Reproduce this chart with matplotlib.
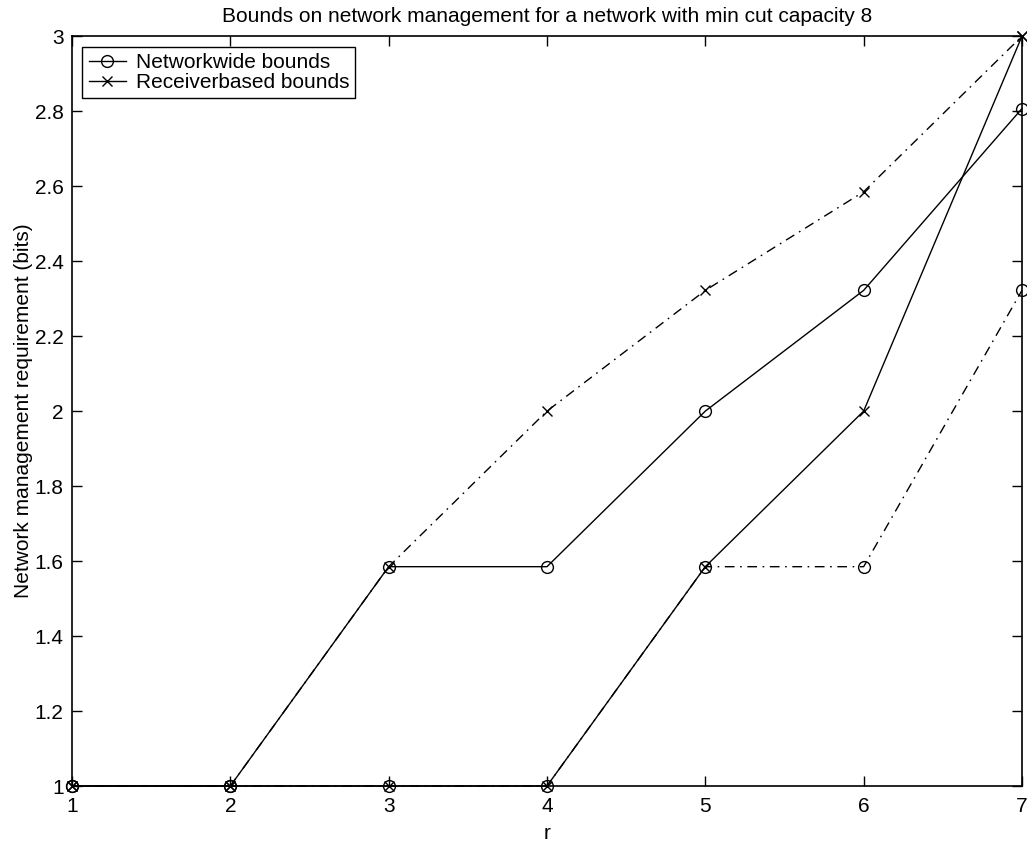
import numpy as np
import matplotlib
matplotlib.use("Agg")
import matplotlib.pyplot as plt
from matplotlib.lines import Line2D

# 数据：r 从 1 到 7
r = [1, 2, 3, 4, 5, 6, 7]
net_upper = [1, 1, 1.585, 1.585, 2.0, 2.322, 2.807]
net_lower = [1, 1, 1, 1, 1.585, 1.585, 2.322]
recv_upper = [1, 1, 1.585, 2.0, 2.322, 2.585, 3.0]
recv_lower = [1, 1, 1, 1, 1.585, 2.0, 3.0]
y_ticks = [1, 1.2, 1.4, 1.6, 1.8, 2, 2.2, 2.4, 2.6, 2.8, 3]
y_labels = ['1', '1.2', '1.4', '1.6', '1.8', '2', '2.2', '2.4', '2.6', '2.8', '3']

plt.rcParams['font.family'] = ['Liberation Sans', 'DejaVu Sans']
FS = 15

fig = plt.figure(figsize=(10.27, 8.42), dpi=100)
ax = fig.add_axes([0.0701, 0.0665, 0.925, 0.8905])

dashdot = (0, (7, 4, 1.2, 4))
mk = dict(color='black', lw=1.0, markerfacecolor='none',
          markeredgecolor='black', markeredgewidth=1.0, clip_on=False)
ax.plot(r, net_upper, linestyle='-', marker='o', markersize=8.5, **mk)
ax.plot(r, net_lower, linestyle=dashdot, marker='o', markersize=8.5, **mk)
ax.plot(r, recv_upper, linestyle=dashdot, marker='x', markersize=7.5, **mk)
ax.plot(r, recv_lower, linestyle='-', marker='x', markersize=7.5, **mk)

ax.set_xlim(1, 7)
ax.set_ylim(1, 3)
ax.set_xticks(r)
ax.set_yticks(y_ticks)
ax.set_yticklabels(y_labels)
ax.tick_params(direction='in', top=True, right=True, length=7, labelsize=FS, width=1)
ax.tick_params(axis='x', pad=8)
ax.tick_params(axis='y', pad=6)
for s in ax.spines.values():
    s.set_linewidth(1.2)

ax.set_xlabel('r', fontsize=FS, labelpad=6)
ax.set_ylabel('Network management requirement (bits)', fontsize=FS, labelpad=1)
ax.set_title('Bounds on network management for a network with min cut capacity 8',
             fontsize=FS, pad=10)

handles = [Line2D([], [], color='black', lw=1, marker='o', markersize=8.5,
                  markerfacecolor='none', markeredgewidth=1),
           Line2D([], [], color='black', lw=1, marker='x', markersize=7,
                  markeredgewidth=1)]
leg = ax.legend(handles, ['Networkwide bounds', 'Receiverbased bounds'],
                loc='upper left', fontsize=FS, fancybox=False, framealpha=1,
                edgecolor='black', borderaxespad=0.5, handlelength=1.8,
                labelspacing=0.05, borderpad=0.3, handletextpad=0.45)
leg.get_frame().set_linewidth(1.0)

fig.savefig('out.png', dpi=100)
